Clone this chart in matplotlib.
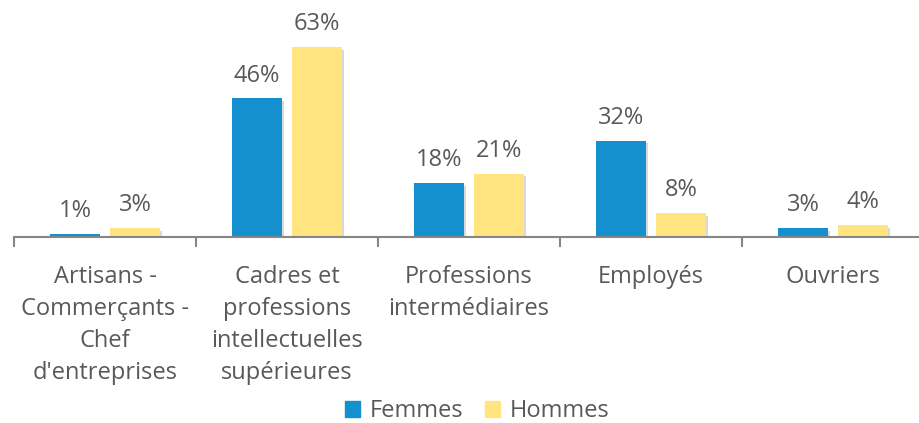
import matplotlib.pyplot as plt
import matplotlib.patheffects as pe
from matplotlib.patches import Patch
import numpy as np

plt.rcParams['font.family'] = ['Open Sans', 'DejaVu Sans']

categories = ["Artisans -\nCommerçants -\nChef\nd'entreprises",
              "Cadres et\nprofessions\nintellectuelles\nsupérieures",
              "Professions\nintermédiaires",
              "Employés",
              "Ouvriers"]
femmes = [1, 46, 18, 32, 3]
hommes = [3, 63, 21, 8, 4]

bleu = '#1490CE'
jaune = '#FFE480'
gris = '#595959'
taille = 17

fig = plt.figure(figsize=(9.2, 4.23), dpi=100)
ax = fig.add_axes([14 / 920, 1 - 237 / 423, 910 / 920, 226 / 423])

x = np.arange(len(categories))
largeur = 0.27
ombre = [pe.SimplePatchShadow(offset=(2, -2), shadow_rgbFace='#000000', alpha=0.15), pe.Normal()]
b1 = ax.bar(x - 0.165, femmes, largeur, color=bleu, path_effects=ombre)
b2 = ax.bar(x + 0.165, hommes, largeur, color=jaune, path_effects=ombre)

for barres, vals in [(b1, femmes), (b2, hommes)]:
    for b, v in zip(barres, vals):
        ax.text(b.get_x() + b.get_width() / 2, v + 3.6, f"{v}%", ha='center', va='bottom',
                fontsize=taille, color=gris)

ax.set_xlim(-0.5, len(categories) - 0.5)
ax.set_ylim(0, 75)

for s in ['top', 'right', 'left']:
    ax.spines[s].set_visible(False)
ax.spines['bottom'].set_color('#868686')
ax.spines['bottom'].set_linewidth(1.5)
ax.set_yticks([])

ax.set_xticks(x)
ax.set_xticklabels(categories, fontsize=taille, color=gris, linespacing=1.45, va='top')
ax.tick_params(axis='x', which='major', length=0, pad=20)
ax.set_xticks(np.arange(len(categories) + 1) - 0.5, minor=True)
ax.tick_params(axis='x', which='minor', length=7, width=1.5, color='#868686')

poignees = [Patch(color=bleu, label='Femmes'), Patch(color=jaune, label='Hommes')]
fig.legend(handles=poignees, loc='center', bbox_to_anchor=(477 / 920, 1 - 411 / 423), ncol=2,
           frameon=False, fontsize=taille, labelcolor=gris, handlelength=0.65, handleheight=0.65,
           handletextpad=0.4, columnspacing=0.9)

plt.savefig('out.png', dpi=100)
